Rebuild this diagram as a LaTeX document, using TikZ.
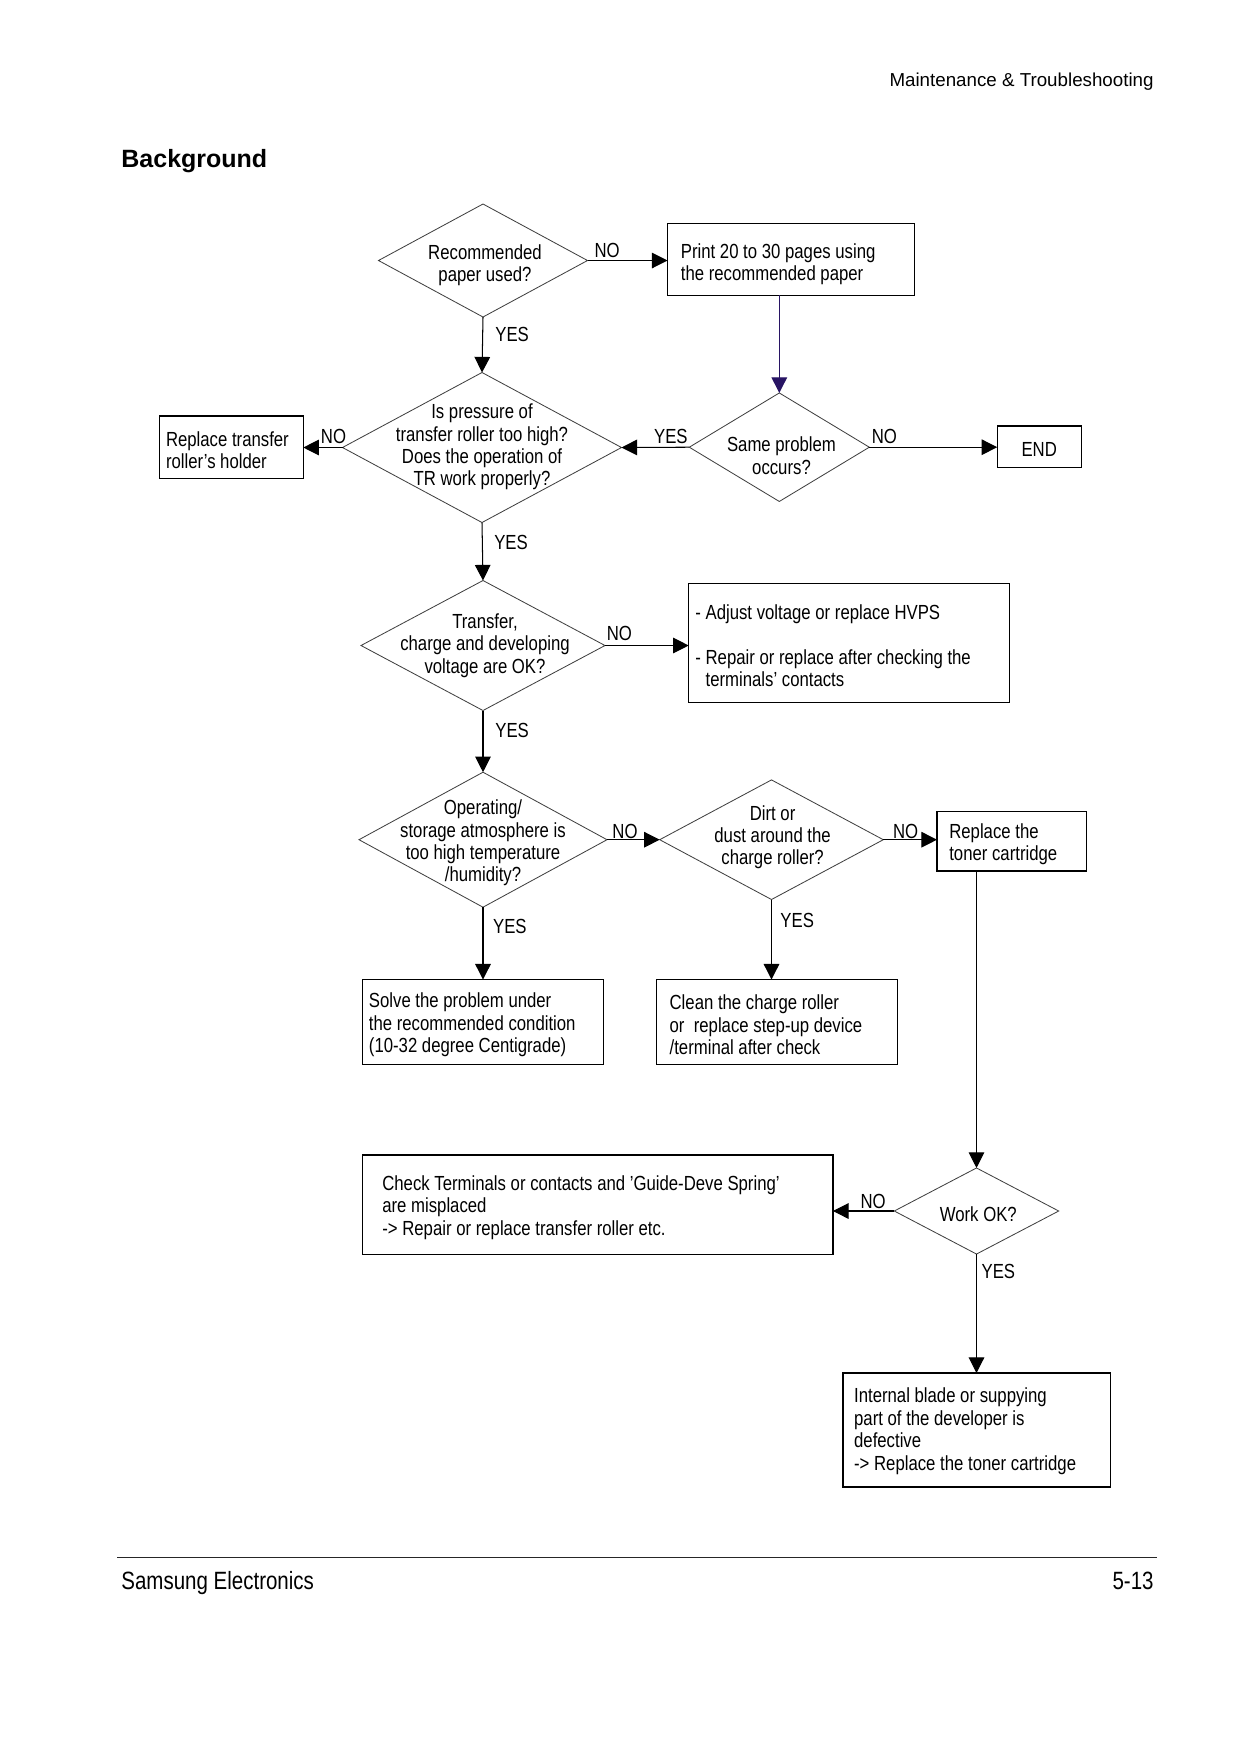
\documentclass[tikz,border=0pt]{standalone}
\usepackage{fontspec}
\setmainfont{Liberation Sans}
\newfontfamily\nfont[FakeStretch=0.82]{Liberation Sans}
\usetikzlibrary{shapes.geometric,arrows.meta,calc}
\newdimen\pxu \pxu=0.48pt
\definecolor{navyline}{RGB}{40,20,100}
\tikzset{
  dia/.style={draw=black!75, line width=0.4pt, diamond, inner sep=0pt, outer sep=0pt},
  bx/.style={draw=black, line width=0.6pt, rectangle, inner sep=0pt, outer sep=0pt},
  txt/.style={inner sep=0pt, outer sep=0pt, yshift=-1.3pt, font=\nfont\fontsize{9.8}{10.75}\selectfont},
  ltxt/.style={txt, align=left, anchor=west},
  ctxt/.style={txt, align=center},
  lbl/.style={txt},
  conn/.style={draw=black, line width=0.5pt, -{Triangle[length=7.5pt,width=7.5pt]}},
}
\begin{document}
\begin{tikzpicture}[x=0.48pt, y=-0.48pt]
\useasboundingbox (0,0) rectangle (1240,1754);
% header and footer
\node[anchor=east, inner sep=0pt, font=\fontsize{9}{11}\selectfont] (hdr) at (1154,82) {Maintenance \& Troubleshooting};
\node[anchor=west, inner sep=0pt, font=\bfseries\fontsize{12}{14}\selectfont] (ttl) at (121,161) {Background};
\coordinate (fl) at (117,1557.5);
\coordinate (fr) at (1157,1557.5);
\draw[line width=0.6pt, black!85] (fl) -- (fr);
\node[anchor=base west, inner sep=0pt, font=\nfont\fontsize{12}{14}\selectfont] (ftl) at (121,1589) {Samsung Electronics};
\node[anchor=base east, inner sep=0pt, font=\nfont\fontsize{12}{14}\selectfont] (ftr) at (1154,1589) {5-13};

% diamonds
\node[dia, minimum width=209\pxu, minimum height=113\pxu] (A) at (483,260.5) {};
\node[ctxt] (At) at (485,262.7) {Recommended\\paper used?};
\node[dia, minimum width=180\pxu, minimum height=108.5\pxu] (C) at (779.3,447.2) {};
\node[ctxt] (Ct) at (781.5,452.8) {Same problem\\occurs?};
\node[dia, minimum width=279\pxu, minimum height=150\pxu] (D) at (482,447.5) {};
\node[ctxt] (Dt) at (482,444.4) {Is pressure of\\transfer roller too high?\\Does the operation of\\TR work properly?};
\node[dia, minimum width=244\pxu, minimum height=130\pxu] (F) at (483,645.5) {};
\node[ctxt] (Ft) at (485,642.9) {Transfer,\\charge and developing\\voltage are OK?};
\node[dia, minimum width=248\pxu, minimum height=135\pxu] (H) at (483,839.7) {};
\node[ctxt] (Ht) at (483,840.3) {Operating/\\storage atmosphere is\\too high temperature\\/humidity?};
\node[dia, minimum width=223.6\pxu, minimum height=119.6\pxu] (I) at (771.5,839.7) {};
\node[ctxt] (It) at (772.6,834.6) {Dirt or\\dust around the\\charge roller?};
\node[dia, minimum width=164.4\pxu, minimum height=86.1\pxu] (M) at (976.5,1211) {};
\node[ctxt] (Mt) at (978.3,1211) {Work OK?};

% boxes
\node[bx, minimum width=247\pxu, minimum height=71.6\pxu] (B) at (791,259.4) {};
\node[ltxt] (Bt) at ($(B.west)+(13.4,2)$) {Print 20 to 30 pages using\\the recommended paper};
\node[bx, minimum width=84\pxu, minimum height=41.4\pxu] (END) at (1039.2,446.7) {};
\node[ctxt] (ENDt) at (END) {END};
\node[bx, minimum width=144\pxu, minimum height=62.3\pxu] (E) at (231.3,447.2) {};
\node[ltxt] (Et) at ($(E.west)+(6.7,0)$) {Replace transfer\\roller’s holder};
\node[bx, minimum width=321\pxu, minimum height=118.6\pxu] (G) at (849.2,642.9) {};
\node[ltxt] (Gt) at ($(G.west)+(6.7,0)$) {- Adjust voltage or replace HVPS\\[10.75pt]- Repair or replace after checking the\\\phantom{- }terminals’ contacts};
\node[bx, minimum width=149.8\pxu, minimum height=59.3\pxu] (J) at (1011.9,841.3) {};
\node[ltxt] (Jt) at ($(J.west)+(12.3,0)$) {Replace the\\toner cartridge};
\node[bx, minimum width=241.5\pxu, minimum height=84.9\pxu] (K) at (483,1022) {};
\node[ltxt] (Kt) at ($(K.west)+(6.7,0)$) {Solve the problem under\\the recommended condition\\(10-32 degree Centigrade)};
\node[bx, minimum width=241.5\pxu, minimum height=84.9\pxu] (L) at (777,1022) {};
\node[ltxt] (Lt) at ($(L.west)+(13.4,0)$) {Clean the charge roller\\or\ \ replace step-up device\\/terminal after check};
\node[bx, minimum width=470.7\pxu, minimum height=99.5\pxu] (N) at (597.6,1204.7) {};
\node[ltxt] (Nt) at ($(N.west)+(20.1,0)$) {Check Terminals or contacts and ’Guide-Deve Spring’\\are misplaced\\-> Repair or replace transfer roller etc.};
\node[bx, minimum width=267.3\pxu, minimum height=114\pxu] (O) at (976.6,1430) {};
\node[ltxt] (Ot) at ($(O.west)+(11.2,-1.5)$) {Internal blade or suppying\\part of the developer is\\defective\\-> Replace the toner cartridge};

% connectors
\draw[conn] (A.east) -- (A.east -| B.west);
\draw[conn, draw=navyline] (C.north |- B.south) -- (C.north);
\draw[conn] (A.south) -- (D.north);
\draw[conn] (C.west) -- (D.east);
\draw[conn] (C.east) -- (C.east -| END.west);
\draw[conn] (D.west) -- (D.west -| E.east);
\draw[conn] (D.south) -- (F.north);
\draw[conn] (F.east) -- (F.east -| G.west);
\draw[conn] (F.south) -- (H.north);
\draw[conn] (H.east) -- (I.west);
\draw[conn] (I.east) -- (I.east -| J.west);
\draw[conn] (H.south) -- (H.south |- K.north);
\draw[conn] (I.south) -- (I.south |- L.north);
\draw[conn] (M.north |- J.south) -- (M.north);
\draw[conn] (M.west) -- (M.west -| N.east);
\draw[conn] (M.south) -- (M.south |- O.north);

% labels
\node[lbl] (l1) at (607.1,248.2) {NO};
\node[lbl] (l2) at (512.1,332.1) {YES};
\node[lbl] (l3) at (670.9,433.8) {YES};
\node[lbl] (l4) at (884.4,433.8) {NO};
\node[lbl] (l5) at (333.5,433.8) {NO};
\node[lbl] (l6) at (511,540) {YES};
\node[lbl] (l7) at (619.4,630.6) {NO};
\node[lbl] (l8) at (512.1,727.9) {YES};
\node[lbl] (l9) at (625,828.5) {NO};
\node[lbl] (l10) at (905.7,828.5) {NO};
\node[lbl] (l11) at (509.9,923.5) {YES};
\node[lbl] (l12) at (797.2,918) {YES};
\node[lbl] (l13) at (873.2,1198.6) {NO};
\node[lbl] (l14) at (998.4,1269) {YES};
\end{tikzpicture}
\end{document}
